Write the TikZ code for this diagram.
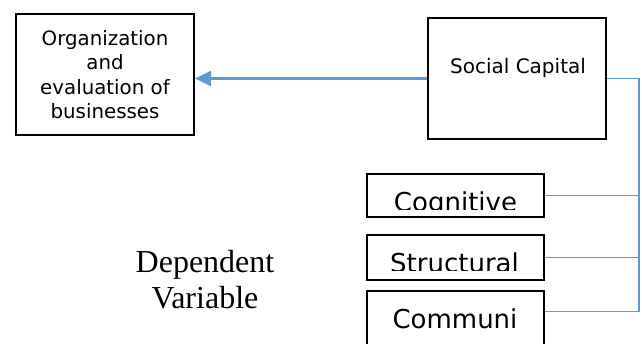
\documentclass[tikz,border=0pt]{standalone}
\usepackage{fontspec}
\setmainfont{Liberation Serif}
\newfontfamily\boxfont{DejaVu Sans}
\usetikzlibrary{arrows.meta}
\definecolor{linkblue}{HTML}{5B9BD5}
\begin{document}
\begin{tikzpicture}[x=1pt,y=-1pt,
  box/.style={draw=black, line width=2.2pt, minimum width=178pt, inner sep=0pt},
  conn/.style={draw=linkblue, line width=1.4pt},
  mainarrow/.style={draw=linkblue, line width=2.4pt, -{Triangle[length=16pt,width=15pt]}},
  sanslabel/.style={font=\boxfont\fontsize{26}{30}\selectfont, anchor=base, inner sep=0pt},
  seriflabel/.style={font=\fontsize{32}{36}\selectfont, anchor=base, inner sep=0pt},
]
\useasboundingbox (0,0) rectangle (642,343);
\clip (0,0) rectangle (642,343);
\fill[white] (0,0) rectangle (642,343);

\node[box, minimum height=121pt, align=center,
      font=\boxfont\fontsize{19.8}{24.3}\selectfont] (org) at (105,74.5)
      {Organization\\and\\evaluation of\\businesses};
\node[box, minimum height=121pt] (soc) at (517,78.5) {};
\node[font=\boxfont\fontsize{20}{24}\selectfont, anchor=base, inner sep=0pt] (socl) at (518,73) {Social Capital};

\node[box, minimum width=177pt, minimum height=43pt] (cog) at (455.5,195.5) {};
\node[box, minimum width=177pt, minimum height=45pt] (str) at (455.5,257.5) {};
\node[box, minimum width=177pt, minimum height=80pt] (com) at (455.5,331) {};

\begin{scope}
  \clip (367,174) rectangle (545,209);
  \node[sanslabel] (cogl) at (455.5,211) {Cognitive};
\end{scope}
\begin{scope}
  \clip (367,235) rectangle (545,270);
  \node[sanslabel] (strl) at (454.5,272) {Structural};
\end{scope}
\node[sanslabel] (coml) at (455,328) {Communi};

\node[seriflabel] (dep1) at (205,272) {Dependent};
\node[seriflabel] (dep2) at (205,308) {Variable};

\draw[mainarrow] (soc.west) -- (soc.west -| org.east);
\draw[conn] (soc.east) -- ++(32,0) coordinate (bus) |- ([yshift=-21.5pt]com.north east);
\draw[conn] (cog.east) -- (cog.east -| bus);
\draw[conn] (str.east) -- (str.east -| bus);
\end{tikzpicture}
\end{document}
